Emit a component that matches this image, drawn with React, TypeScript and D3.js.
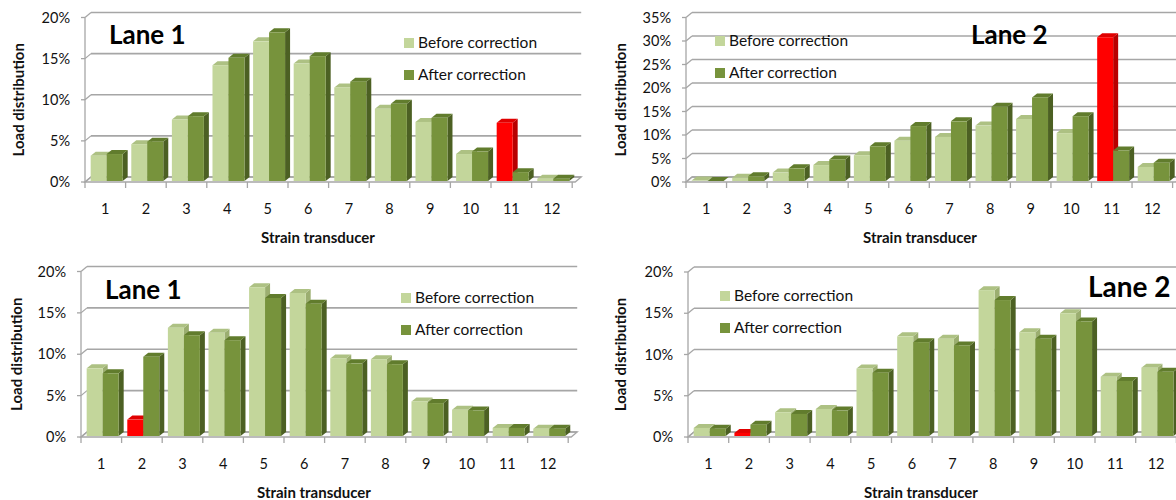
import React from 'react';
import * as d3 from 'd3';

// strain transducer numbers
const categories = ['1', '2', '3', '4', '5', '6', '7', '8', '9', '10', '11', '12'];

// load distribution in %
const lane1TopBefore = [3.2, 4.6, 7.6, 14.2, 17.1, 14.4, 11.5, 8.9, 7.3, 3.4, 7.2, 0.4];
const lane1TopAfter = [3.4, 4.9, 8.0, 15.1, 18.2, 15.3, 12.2, 9.5, 7.8, 3.7, 1.2, 0.4];
const lane2TopBefore = [0.3, 0.9, 2.0, 3.6, 5.7, 8.8, 9.6, 12.0, 13.4, 10.4, 30.8, 3.2];
const lane2TopAfter = [0.2, 1.2, 2.9, 4.8, 7.6, 11.9, 12.9, 16.0, 18.0, 14.0, 6.7, 4.1];
const lane1BotBefore = [8.3, 2.1, 13.2, 12.6, 18.1, 17.4, 9.5, 9.4, 4.3, 3.3, 1.1, 1.0];
const lane1BotAfter = [7.7, 9.7, 12.3, 11.7, 16.8, 16.1, 8.9, 8.8, 4.1, 3.2, 1.1, 1.0];
const lane2BotBefore = [1.1, 0.5, 3.0, 3.4, 8.3, 12.2, 11.9, 17.8, 12.7, 15.0, 7.3, 8.4];
const lane2BotAfter = [1.0, 1.5, 2.8, 3.2, 7.8, 11.5, 11.1, 16.6, 11.9, 14.0, 6.8, 7.9];

const ticks20 = [0, 5, 10, 15, 20];
const ticks35 = [0, 5, 10, 15, 20, 25, 30, 35];
const legendLabels = ['Before correction', 'After correction'];

const FONT = 'Lato, "Open Sans", sans-serif';
const GRID = '#a6a6a6';

const shades = {
  light: { front: '#c3d69b', top: '#adc183', side: '#9bae70' },
  dark: { front: '#77933c', top: '#617c2d', side: '#4c6023' },
  red: { front: '#ff0000', top: '#e00000', side: '#b80000' },
};

// depth of the bars and of the back wall
const BDX = 5, BDY = 4;
const WDX = 6, WDY = 5;

function Bar({ x, w, yTop, yBot, c }) {
  const top = `${x},${yTop} ${x + BDX},${yTop - BDY} ${x + w + BDX},${yTop - BDY} ${x + w},${yTop}`;
  const side = `${x + w},${yTop} ${x + w + BDX},${yTop - BDY} ${x + w + BDX},${yBot - BDY} ${x + w},${yBot}`;
  return (
    <g>
      <polygon points={side} fill={c.side} />
      <polygon points={top} fill={c.top} />
      <rect x={x} y={yTop} width={w} height={Math.max(0, yBot - yTop)} fill={c.front} />
    </g>
  );
}

function Panel(p) {
  const yMax = p.ticks[p.ticks.length - 1];
  const x = d3.scaleBand().domain(categories).range([p.axisX, p.axisX + p.band * 12]);
  const y = d3.scaleLinear().domain([0, yMax]).range([p.y0, p.yTop]);
  const bw = x.bandwidth();
  const xEnd = x.range()[1];
  const wallR = xEnd + 9;
  const barW = bw * 0.394;
  const off = bw * 0.14;
  const yBot = p.y0 - 1;

  return (
    <g fontFamily={FONT}>
      {/* floor */}
      <polygon
        points={`${p.axisX},${p.y0} ${xEnd + 3},${p.y0} ${wallR},${p.y0 - WDY} ${p.axisX + WDX},${p.y0 - WDY}`}
        fill="#fafafa" stroke={GRID} strokeWidth={1.3} />
      {/* gridlines on the back wall */}
      {p.ticks.map(t => (
        <g key={t}>
          <line x1={p.axisX - 4} x2={p.axisX} y1={y(t)} y2={y(t)} stroke={GRID} strokeWidth={1.3} />
          <line x1={p.axisX} y1={y(t)} x2={p.axisX + WDX} y2={y(t) - WDY} stroke={GRID} strokeWidth={1.3} />
          <line x1={p.axisX + WDX} y1={y(t) - WDY} x2={wallR} y2={y(t) - WDY} stroke={GRID} strokeWidth={1.6} />
          <text x={p.axisX - 15} y={y(t)} dy="0.35em" textAnchor="end" fontSize={14.5} fill="#111">{t}%</text>
        </g>
      ))}
      <line x1={p.axisX} x2={p.axisX} y1={p.y0} y2={y(yMax)} stroke={GRID} strokeWidth={1.3} />
      {/* x ticks */}
      {d3.range(13).map(i => {
        const xx = p.axisX + i * bw;
        return <line key={i} x1={xx} x2={xx} y1={p.y0} y2={p.y0 + 6} stroke={GRID} strokeWidth={1.3} />;
      })}
      {categories.map(c => (
        <text key={c} x={x(c) + bw / 2} y={p.y0 + 27} dy="0.35em" textAnchor="middle" fontSize={14.5} fill="#111">{c}</text>
      ))}
      {/* bars */}
      {categories.map((c, i) => (
        <g key={c}>
          <Bar x={x(c) + off} w={barW} yTop={y(p.before[i])} yBot={yBot}
            c={i === p.highlight ? shades.red : shades.light} />
          <Bar x={x(c) + off + barW} w={barW} yTop={y(p.after[i])} yBot={yBot} c={shades.dark} />
        </g>
      ))}
      {/* axis titles */}
      <text x={p.xTitleX} y={p.y0 + 56} dy="0.35em" textAnchor="middle" fontSize={15} fontWeight="bold" fill="#111">
        Strain transducer
      </text>
      <text transform={`translate(${p.yTitleX},${(p.y0 + p.yTop) / 2}) rotate(-90)`} textAnchor="middle" dy="0.35em"
        fontSize={15} fontWeight="bold" fill="#111">Load distribution</text>
      {/* legend */}
      {legendLabels.map((l, i) => (
        <g key={l} transform={`translate(${p.legendX},${p.legendY + i * 32})`}>
          <rect x={0} y={-5} width={10} height={10} fill={i === 0 ? shades.light.front : shades.dark.front} />
          <text x={14} y={0} dy="0.35em" fontSize={15.5} fill="#111">{l}</text>
        </g>
      ))}
      <text x={p.titleX} y={p.titleY} dy="0.35em" fontSize={p.titleSize || 26} fontWeight="bold" fill="#000">{p.title}</text>
    </g>
  );
}

export default function App() {
  return (
    <svg width={1176} height={500} style={{ position: 'absolute', left: 0, top: 0, background: '#fff' }}>
      <Panel title="Lane 1" before={lane1TopBefore} after={lane1TopAfter} highlight={10} ticks={ticks20}
        axisX={85} band={40.6} y0={182} yTop={17.5} xTitleX={318} yTitleX={19}
        legendX={404} legendY={43} titleX={109} titleY={35} />
      <Panel title="Lane 2" before={lane2TopBefore} after={lane2TopAfter} highlight={10} ticks={ticks35}
        axisX={686} band={40.55} y0={182} yTop={17.5} xTitleX={920} yTitleX={621}
        legendX={715} legendY={41} titleX={971} titleY={35} />
      <Panel title="Lane 1" before={lane1BotBefore} after={lane1BotAfter} highlight={1} ticks={ticks20}
        axisX={81} band={40.6} y0={437} yTop={271.5} xTitleX={314} yTitleX={17}
        legendX={401} legendY={298} titleX={105} titleY={290} />
      <Panel title="Lane 2" before={lane2BotBefore} after={lane2BotAfter} highlight={1} ticks={ticks20}
        axisX={688} band={40.7} y0={437} yTop={272} xTitleX={921} yTitleX={621}
        legendX={720} legendY={296} titleX={1088} titleY={287} titleSize={28} />
    </svg>
  );
}
